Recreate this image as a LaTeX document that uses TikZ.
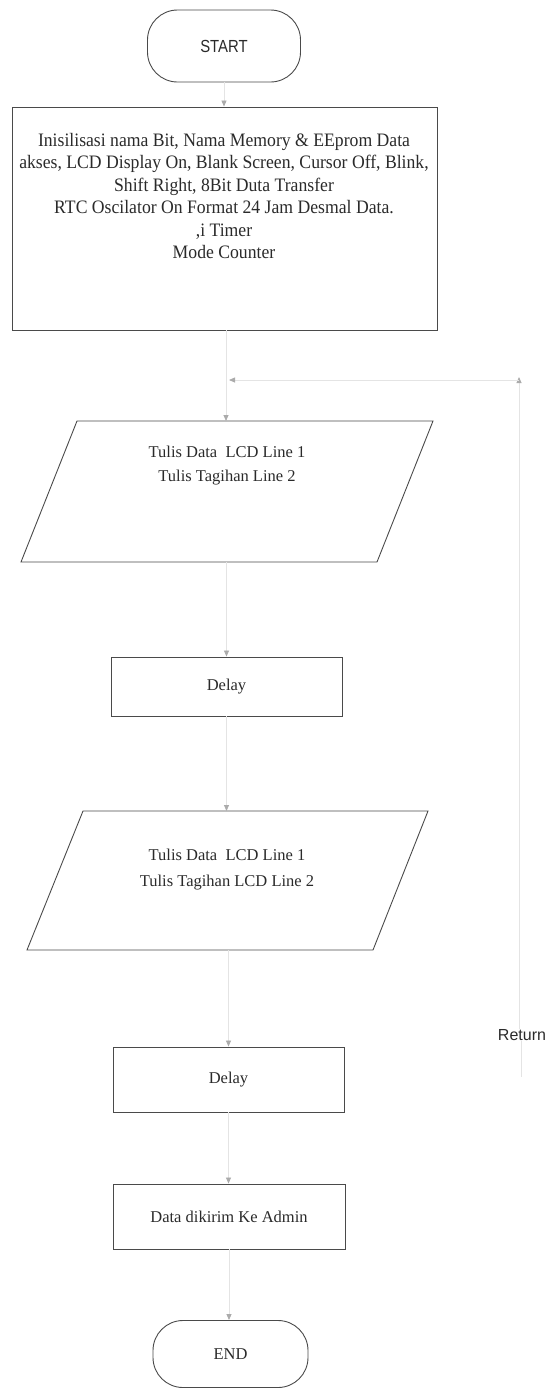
\documentclass[tikz,border=0pt]{standalone}
\usepackage{fontspec}
\setmainfont{Liberation Serif}
\newfontfamily\narrowsans[FakeStretch=0.85]{Liberation Sans}
\newfontfamily\plainsans{Liberation Sans}
\newfontfamily\condserif[FakeStretch=0.93]{Liberation Serif}
\usetikzlibrary{arrows.meta}
\definecolor{ink}{HTML}{2A2A2A}
\definecolor{edgec}{HTML}{4A4A4A}
\definecolor{faint}{HTML}{E4E4E4}
\definecolor{tipc}{HTML}{ABABAB}
\tikzset{
  box/.style={draw=edgec, line width=0.9pt, text=ink, inner sep=0pt},
  term/.style={box, rounded corners=30pt},
  txt/.style={text=ink, align=center, inner sep=0pt},
  body/.style={font=\fontsize{16.5}{24}\selectfont},
  para/.style={draw=edgec, line width=0.9pt},
  conn/.style={draw=faint, line width=0.8pt},
  arr/.style={conn, -{Triangle[length=6pt,width=5pt,color=tipc]}},
}
\begin{document}
\begin{tikzpicture}[x=1pt,y=-1pt]
\useasboundingbox (0,0) rectangle (549,1390);

% START
\node[term, minimum width=153pt, minimum height=72pt,
      font=\narrowsans\fontsize{17.5}{20}\selectfont] (start) at (224,46) {START};

% initialisation box
\node[box, minimum width=425pt, minimum height=223pt] (init) at (224.5,218.5) {};
\node[txt, font=\condserif\fontsize{19}{22.5}\selectfont] (initText) at (224,196)
  {Inisilisasi nama Bit, Nama Memory \& EEprom Data\\
   akses, LCD Display On, Blank Screen, Cursor Off, Blink,\\
   Shift Right, 8Bit Duta Transfer\\
   RTC Oscilator On Format 24 Jam Desmal Data.\\
   ,i Timer\\
   Mode Counter};

% first output parallelogram
\draw[para] (77,421) -- (433,421) -- (377,562) -- (21,562) -- cycle;
\coordinate (p1top) at (226,421);
\coordinate (p1bot) at (226.5,562);
\node[txt, body] (p1text) at (227,466)
  {Tulis Data\ \ LCD Line 1\\Tulis Tagihan Line 2};

% Delay 1
\node[box, body, minimum width=231pt, minimum height=59pt] (delay1) at (226.5,686.5) {Delay};

% second output parallelogram
\draw[para] (83,811) -- (428,811) -- (373,950) -- (27,950) -- cycle;
\coordinate (p2top) at (226.5,811);
\coordinate (p2bot) at (228.5,950);
\node[txt, font=\fontsize{16.5}{26}\selectfont] (p2text) at (227,870)
  {Tulis Data\ \ LCD Line 1\\Tulis Tagihan LCD Line 2};

% Delay 2
\node[box, body, minimum width=231pt, minimum height=65pt] (delay2) at (228.5,1079.5) {Delay};

% Data sent
\node[box, body, minimum width=232pt, minimum height=65pt] (data) at (229,1216.5) {Data dikirim Ke Admin};

% END
\node[term, body, minimum width=155pt, minimum height=67pt] (end) at (230.5,1354) {END};

% Return label and loop
\node[txt, font=\plainsans\fontsize{16}{19}\selectfont] (ret) at (522,1035) {Return};
\coordinate (retlow) at (521,1077);
\coordinate (corner) at (519,377);
\coordinate (merge) at (229,380);

% connectors
\draw[arr] (start.south) -- (start.south |- init.north);
\draw[arr] (p1top |- init.south) -- (p1top);
\draw[arr] (p1bot) -- (delay1.north);
\draw[arr] (delay1.south) -- (p2top);
\draw[arr] (p2bot) -- (delay2.north);
\draw[arr] (delay2.south) -- (delay2.south |- data.north);
\draw[arr] (data.south) -- (data.south |- end.north);
\draw[conn] (retlow) -- (ret.south -| retlow);
\draw[arr] (ret.north -| corner) -- (corner);
\draw[arr] (corner |- merge) -- (merge);
\end{tikzpicture}
\end{document}
